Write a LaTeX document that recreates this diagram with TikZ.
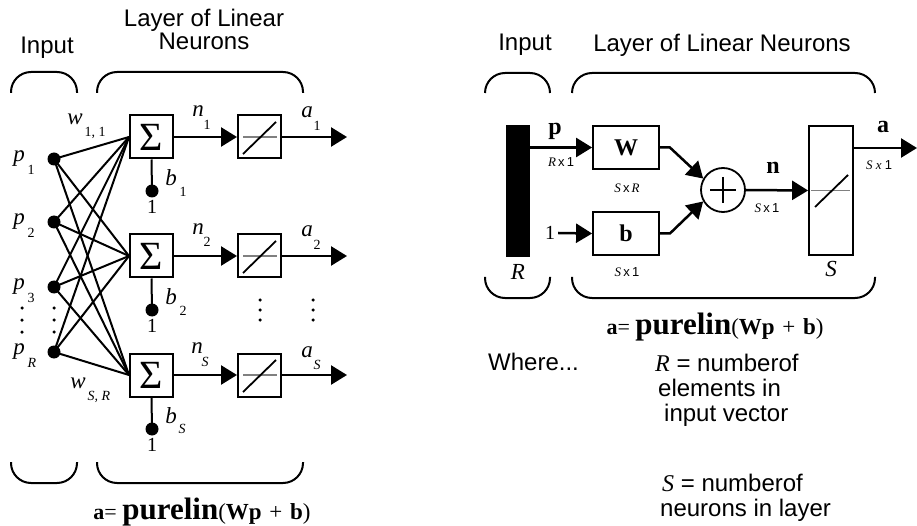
\documentclass[tikz,border=0pt]{standalone}
\usepackage{fontspec}
\setmainfont{Liberation Serif}
\setsansfont{Liberation Sans}
\usetikzlibrary{arrows.meta}
\newcommand{\plformula}{{\fontsize{22}{22}\selectfont\textbf{a}= }{\fontsize{31}{31}\selectfont\textbf{purelin}}{\fontsize{23}{23}\selectfont(\textbf{Wp}\,\,+\,\,\textbf{b})}}
\begin{document}
\begin{tikzpicture}[x=1pt,y=-1pt,
  mybrace/.style={line width=2pt, rounded corners=20pt},
  sbox/.style={draw, line width=2pt, minimum size=43pt, inner sep=0pt},
  rbox/.style={draw, line width=1.8pt, inner sep=0pt},
  dotn/.style={circle, fill, inner sep=0pt, minimum size=13pt},
  wline/.style={line width=2pt},
  myarr/.style={line width=2.5pt, -{Triangle[length=16pt,width=19pt]}},
  mysans/.style={font=\sffamily\fontsize{24}{23}\selectfont, inner sep=0pt},
  mysansb/.style={font=\sffamily\fontsize{24}{25}\selectfont, inner sep=0pt, align=left},
  myit/.style={font=\fontsize{23}{23}\selectfont\itshape, inner sep=0pt},
  mysub/.style={font=\fontsize{14}{14}\selectfont, inner sep=0pt},
  mysubi/.style={font=\fontsize{14}{14}\selectfont\itshape, inner sep=0pt},
  mynum/.style={font=\fontsize{20}{20}\selectfont, inner sep=0pt},
  mybld/.style={font=\fontsize{24}{24}\selectfont\bfseries, inner sep=0pt},
  mydim/.style={font=\fontsize{13}{13}\selectfont, inner sep=0pt},
  edot/.style={circle, fill, inner sep=0pt, minimum size=3.5pt},
]
\useasboundingbox (0,0) rectangle (917,526);

% ---------------- left diagram ----------------
\node[mysans] (inL) at (47,48) {Input};
\node[mysans, align=center] (layL) at (204,29) {Layer of Linear\\Neurons};

\draw[mybrace] (11,93) -- (11,72) -- (77,72) -- (77,93);
\draw[mybrace] (97,93) -- (97,72) -- (303,72) -- (303,93);
\draw[mybrace] (11,462) -- (11,483) -- (77,483) -- (77,462);
\draw[mybrace] (97,462) -- (97,483) -- (303,483) -- (303,462);

% inputs
\foreach \n/\y in {1/159,2/222,3/287,R/352}{
  \node[dotn] (p\n) at (54,\y) {};
}
\node[myit] (lp1) at (19,159) {p}; \node[mysub] (lp1s) at (31,170) {1};
\node[myit] (lp2) at (19,222) {p}; \node[mysub] (lp2s) at (31,233) {2};
\node[myit] (lp3) at (19,287) {p}; \node[mysub] (lp3s) at (31,298) {3};
\node[myit] (lpR) at (19,352) {p}; \node[mysubi] (lpRs) at (32,363) {R};

% vertical ellipses
\foreach \x/\k in {22/a,54/b}{
  \foreach \y/\j in {308/1,320/2,332/3}{ \node[edot] (ed\k\j) at (\x,\y) {}; }
}
\foreach \x/\k in {260/c,313/d}{
  \foreach \y/\j in {300/1,310/2,320/3}{ \node[edot] (ed\k\j) at (\x,\y) {}; }
}

% neurons
\foreach \i/\y/\s in {1/137/1,2/256/2,3/375/S}{
  \node[sbox, font=\fontsize{40}{40}\selectfont] (s\i) at (151.5,\y) {\raisebox{-1pt}{Σ}};
  \node[sbox] (t\i) at (259.5,\y) {};
  \draw[gray, line width=1.3pt] ([xshift=6pt]t\i.west) -- ([xshift=-5pt]t\i.east);
  \draw[line width=1.8pt] (t\i.center) ++(-16.5,17) -- ++(33,-32);
  \node[dotn] (b\i) at (152,\y+54) {};
  \draw[wline] (s\i.south) -- (b\i.center);
  \node[mynum] (one\i) at (152,\y+70) {1};
  \draw[myarr] (s\i.east) -- (t\i.west);
  \coordinate (o\i) at (347,\y);
  \draw[myarr] (t\i.east) -- (o\i);
}
\foreach \n in {1,2,3,R}{
  \foreach \i in {1,2,3}{ \draw[wline] (p\n.center) -- (s\i.west); }
}

% neuron labels
\node[myit] (ln1) at (198,111) {n}; \node[mysub] (ln1s) at (207,125) {1};
\node[myit] (ln2) at (198,229) {n}; \node[mysub] (ln2s) at (207,242) {2};
\node[myit] (ln3) at (197,348) {n}; \node[mysubi] (ln3s) at (205,362) {S};
\node[myit] (la1) at (307,112) {a}; \node[mysub] (la1s) at (317,126) {1};
\node[myit] (la2) at (307,231) {a}; \node[mysub] (la2s) at (317,245) {2};
\node[myit] (la3) at (307,352) {a}; \node[mysubi] (la3s) at (317,365) {S};
\node[myit] (lb1) at (171,178) {b}; \node[mysub] (lb1s) at (183,192) {1};
\node[myit] (lb2) at (171,297) {b}; \node[mysub] (lb2s) at (183,311) {2};
\node[myit] (lb3) at (171,416) {b}; \node[mysubi] (lb3s) at (182,429) {S};
\node[myit] (lw1) at (75,119) {w}; \node[mysub] (lw1s) at (95,133) {1, 1};
\node[myit] (lw2) at (78,383) {w}; \node[mysubi] (lw2s) at (99,397) {S, R};

\node[inner sep=0pt] (fL) at (202,512) {\plformula};

% ---------------- right diagram ----------------
\node[mysans] (inR) at (525,45) {Input};
\node[mysans] (layR) at (722,45) {Layer of Linear Neurons};

\draw[mybrace] (485,93) -- (485,73) -- (550,73) -- (550,93);
\draw[mybrace] (572,93) -- (572,73) -- (875,73) -- (875,93);
\draw[mybrace] (485,277) -- (485,298) -- (550,298) -- (550,277);
\draw[mybrace] (572,277) -- (572,298) -- (875,298) -- (875,277);

\node[fill, minimum width=24pt, minimum height=132pt, inner sep=0pt] (bar) at (518,191) {};
\node[myit] (lR) at (518,272) {R};

\node[rbox, minimum width=66pt, minimum height=43pt, mybld] (W) at (626,147.5) {W};
\node[rbox, minimum width=66pt, minimum height=43pt, mybld] (B) at (626,233.5) {b};
\draw[myarr] (bar.east |- W.west) -- (W.west);
\node[mynum] (oneR) at (550,233) {1};
\draw[myarr] ([xshift=3pt]oneR.east) -- (B.west);

\node[circle, draw, line width=1.8pt, minimum size=44pt, inner sep=0pt] (sum) at (723,190) {};
\draw[line width=1.6pt] (sum.center) ++(-13,0) -- ++(26,0);
\draw[line width=1.6pt] (sum.center) ++(0,-13) -- ++(0,26);
\draw[myarr] (W.east) -- ++(10,0) -- (sum.150);
\draw[myarr] (B.east) -- ++(10,0) -- (sum.210);

\node[rbox, minimum width=44pt, minimum height=129pt] (Sb) at (831,190.5) {};
\draw[gray, line width=1.3pt] ([xshift=3pt]Sb.west) -- ([xshift=-4pt]Sb.east);
\draw[line width=1.8pt] (Sb.center) ++(-16,16.5) -- ++(33,-32);
\draw[myarr] (sum.east) -- (Sb.west);
\coordinate (aout) at (917,148);
\draw[myarr] (Sb.east |- aout) -- (aout);
\node[myit] (lS) at (831,269) {S};

\node[mybld] (lpv) at (555,131) {p};
\node[mydim] (dp) at (561,162) {\textit{R}\,\sffamily x\,1};
\node[mydim] (dW) at (627,188) {\textit{S}\,\sffamily x\,\rmfamily\textit{R}};
\node[mydim] (dB) at (627,272) {\textit{S}\,\sffamily x\,1};
\node[mybld] (lnv) at (773,168) {n};
\node[mydim] (dn) at (767,208) {\textit{S}\,\sffamily x\,1};
\node[mybld] (lav) at (883,127) {a};
\node[mydim] (da) at (879,165) {\textit{S x} \sffamily 1};

\node[inner sep=0pt] (fR) at (715,327) {\plformula};

\node[mysans, anchor=west] (wh) at (488,362) {Where...};
\node[mysansb, anchor=north west] (rdef) at (655,354) {{\rmfamily\itshape R} = numberof\\\hspace*{3pt}elements in\\\hspace*{9pt}input vector};
\node[mysansb, anchor=north west] (sdef) at (660,474) {\hspace*{2pt}{\rmfamily\itshape S} = numberof\\neurons in layer};
\end{tikzpicture}
\end{document}
